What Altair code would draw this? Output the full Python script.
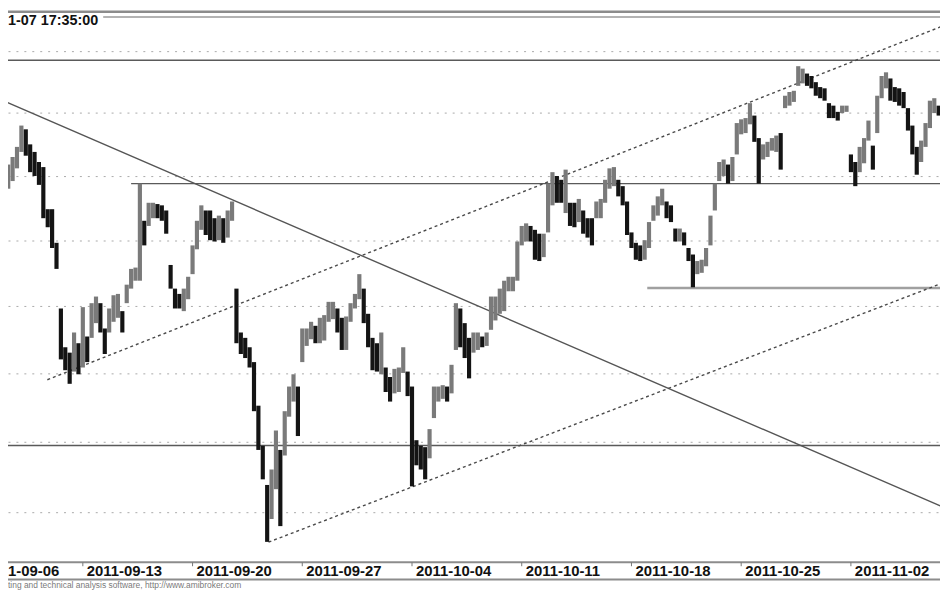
import altair as alt
import pandas as pd

# ---- data (prices on a log axis, bar index on x: 5 bars per trading day) ----
bar_high = [2359, 2365, 2373, 2390, 2387, 2375, 2369, 2361, 2357, 2324,
            2324, 2298, 2248, 2219, 2215, 2230, 2222, 2249, 2227, 2252,
            2257, 2252, 2233, 2248, 2258, 2259, 2246, 2266, 2278, 2279,
            2344, 2315, 2329, 2329, 2328, 2327, 2323, 2281, 2263, 2259,
            2263, 2272, 2296, 2315, 2327, 2323, 2323, 2317, 2319, 2317,
            2323, 2330, 2263, 2230, 2226, 2219, 2208, 2176, 2147, 2119,
            2130, 2158, 2144, 2172, 2190, 2199, 2190, 2233, 2233, 2238,
            2235, 2241, 2243, 2253, 2253, 2248, 2241, 2242, 2252, 2259,
            2274, 2263, 2244, 2226, 2222, 2230, 2204, 2197, 2203, 2204,
            2219, 2201, 2190, 2151, 2147, 2146, 2159, 2190, 2190, 2191,
            2190, 2206, 2252, 2248, 2237, 2226, 2230, 2230, 2227, 2230,
            2257, 2257, 2263, 2269, 2272, 2272, 2299, 2311, 2313, 2311,
            2308, 2305, 2305, 2344, 2353, 2350, 2347, 2355, 2329, 2329,
            2332, 2323, 2317, 2317, 2330, 2332, 2347, 2356, 2357, 2347,
            2342, 2330, 2306, 2298, 2296, 2300, 2314, 2327, 2334, 2340,
            2330, 2327, 2309, 2309, 2306, 2294, 2289, 2284, 2285, 2294,
            2319, 2344, 2361, 2363, 2359, 2365, 2392, 2395, 2396, 2408,
            2398, 2380, 2375, 2377, 2380, 2382, 2384, 2414, 2417, 2418,
            2438, 2436, 2432, 2430, 2425, 2421, 2420, 2408, 2406, 2401,
            2406, 2406, 2367, 2361, 2373, 2380, 2394, 2374, 2414, 2430,
            2433, 2428, 2421, 2420, 2417, 2404, 2390, 2373, 2378, 2392,
            2410, 2412, 2406]
bar_low = [2340, 2346, 2356, 2369, 2366, 2353, 2350, 2343, 2317, 2310,
           2294, 2278, 2210, 2202, 2192, 2201, 2199, 2204, 2208, 2226,
           2237, 2230, 2214, 2230, 2238, 2241, 2230, 2252, 2263, 2269,
           2269, 2296, 2311, 2317, 2317, 2315, 2305, 2263, 2248, 2248,
           2246, 2255, 2274, 2293, 2308, 2304, 2300, 2299, 2300, 2298,
           2302, 2315, 2222, 2214, 2211, 2204, 2172, 2144, 2123, 2079,
           2095, 2116, 2090, 2140, 2168, 2179, 2154, 2208, 2220, 2225,
           2222, 2222, 2224, 2238, 2240, 2230, 2217, 2217, 2238, 2248,
           2255, 2237, 2219, 2202, 2201, 2199, 2186, 2179, 2185, 2186,
           2200, 2183, 2118, 2133, 2130, 2123, 2138, 2167, 2179, 2181,
           2179, 2185, 2217, 2219, 2211, 2196, 2215, 2217, 2219, 2220,
           2232, 2239, 2244, 2246, 2261, 2261, 2269, 2296, 2299, 2299,
           2285, 2284, 2287, 2306, 2327, 2329, 2329, 2321, 2311, 2310,
           2314, 2305, 2302, 2296, 2317, 2317, 2329, 2340, 2342, 2334,
           2327, 2304, 2294, 2285, 2284, 2285, 2294, 2315, 2319, 2327,
           2317, 2314, 2299, 2299, 2296, 2284, 2264, 2274, 2275, 2280,
           2296, 2323, 2346, 2350, 2344, 2346, 2367, 2383, 2384, 2391,
           2377, 2344, 2363, 2365, 2370, 2369, 2355, 2404, 2406, 2409,
           2422, 2424, 2422, 2420, 2414, 2412, 2410, 2396, 2396, 2394,
           2400, 2401, 2353, 2342, 2353, 2360, 2378, 2355, 2384, 2412,
           2420, 2410, 2409, 2406, 2404, 2386, 2367, 2351, 2361, 2373,
           2388, 2400, 2398]

week_ticks = [17, 42, 67, 92, 117, 142, 167, 192]
week_labels = ["2011-09-13", "2011-09-20", "2011-09-27", "2011-10-04",
               "2011-10-11", "2011-10-18", "2011-10-25", "2011-11-02"]
first_label = "1-09-06"          # visible part of the first week label, cut at the left edge

grid_prices = [2100, 2150, 2200, 2250, 2300, 2350, 2400, 2450]

solid_trend_i = [-2, 214]
solid_trend_p = [2411.3, 2102.0]
upper_trend_i = [8.91, 214]
upper_trend_p = [2195.0, 2472.6]
lower_trend_i = [59.31, 214]
lower_trend_p = [2078.8, 2268.7]

level_start = [-2, 28, -2]
level_price = [2442.9, 2344.0, 2147.2]
support_start = [145.6]
support_price = [2263.5]
line_end = 214

title_text = "1-07 17:35:00"
footer_text = "ting and technical analysis software, http://www.amibroker.com"

# ---- tables ----
n = len(bar_high)
dirs = ["up"] + ["up" if (bar_high[k] + bar_low[k]) >= (bar_high[k - 1] + bar_low[k - 1]) else "down"
                 for k in range(1, n)]
bars = pd.DataFrame({"i": list(range(n)), "hi": bar_high, "lo": bar_low, "dir": dirs})
levels = pd.DataFrame({"i": level_start, "i2": [line_end] * len(level_start), "p": level_price})
support = pd.DataFrame({"i": support_start, "i2": [line_end], "p": support_price})
solid_tr = pd.DataFrame({"i": solid_trend_i, "p": solid_trend_p})
dotted_tr = pd.DataFrame({"i": upper_trend_i + lower_trend_i,
                          "p": upper_trend_p + lower_trend_p,
                          "name": ["upper", "upper", "lower", "lower"]})
ticks = pd.DataFrame({"i": week_ticks, "label": week_labels})
one = pd.DataFrame({"a": [0]})

W, H = 940, 556
xs = alt.Scale(domain=[-0.05, 212.3], nice=False, zero=False)
ys = alt.Scale(type="log", domain=[2065.2, 2483.9], nice=False, zero=False)
y_axis = alt.Axis(values=grid_prices, grid=True, gridColor="#a9a9a9", gridDash=[2, 6],
                  gridWidth=1, labels=False, ticks=False, domain=False, title="")

X = alt.X("i:Q", scale=xs, axis=None)
X2 = alt.X2("i2:Q")

lv = alt.Chart(levels).mark_rule(color="#5a5a5a", strokeWidth=1.4, clip=True).encode(
    x=X, x2=X2, y=alt.Y("p:Q", scale=ys, axis=y_axis))
sp = alt.Chart(support).mark_rule(color="#a0a0a0", strokeWidth=2.6, clip=True).encode(
    x=X, x2=X2, y=alt.Y("p:Q", scale=ys, axis=y_axis))
st = alt.Chart(solid_tr).mark_line(color="#555555", strokeWidth=1.4, clip=True).encode(
    x=X, y=alt.Y("p:Q", scale=ys, axis=y_axis))
dt = alt.Chart(dotted_tr).mark_line(color="#4a4a4a", strokeWidth=1.4, strokeDash=[3, 3], clip=True).encode(
    x=X, y=alt.Y("p:Q", scale=ys, axis=y_axis), detail="name:N")
br = alt.Chart(bars).mark_rule(strokeWidth=4.2).encode(
    x=X, y=alt.Y("hi:Q", scale=ys, axis=y_axis), y2="lo:Q",
    color=alt.Color("dir:N", scale=alt.Scale(domain=["up", "down"], range=["#7a7a7a", "#141414"]),
                    legend=None))

frame_col = "#8c8c8c"
top_band = alt.Chart(one).mark_rule(color=frame_col, strokeWidth=2.7).encode(
    x=alt.value(0), x2=alt.value(W), y=alt.value(1.3))
title_line = alt.Chart(one).mark_rule(color="#9a9a9a", strokeWidth=1.6).encode(
    x=alt.value(96), x2=alt.value(W), y=alt.value(6.6))
axis_line = alt.Chart(one).mark_rule(color=frame_col, strokeWidth=2).encode(
    x=alt.value(0), x2=alt.value(W), y=alt.value(556.5))
bottom_line = alt.Chart(one).mark_rule(color=frame_col, strokeWidth=2).encode(
    x=alt.value(0), x2=alt.value(W), y=alt.value(574))
tk = alt.Chart(ticks).mark_rule(color="#777777", strokeWidth=1).encode(
    x=X, y=alt.value(556.5), y2=alt.value(560.5))
tl = alt.Chart(ticks).mark_text(align="left", baseline="alphabetic", dx=4, fontSize=15,
                                fontWeight="bold", font="Liberation Sans", color="#111111").encode(
    x=X, y=alt.value(570.5), text="label:N")
fl = alt.Chart(pd.DataFrame({"t": [first_label]})).mark_text(
    align="left", baseline="alphabetic", fontSize=15, fontWeight="bold",
    font="Liberation Sans", color="#111111").encode(
    x=alt.value(0), y=alt.value(570.5), text="t:N")
title = alt.Chart(pd.DataFrame({"t": [title_text]})).mark_text(
    align="left", baseline="alphabetic", fontSize=14.5, fontWeight="bold",
    font="Liberation Sans", color="#111111").encode(
    x=alt.value(0), y=alt.value(14.8), text="t:N")
footer = alt.Chart(pd.DataFrame({"t": [footer_text]})).mark_text(
    align="left", baseline="alphabetic", fontSize=8.5, font="Liberation Sans",
    color="#7a7a7a").encode(x=alt.value(0), y=alt.value(582), text="t:N")

chart = alt.layer(lv, sp, st, dt, br, top_band, title_line, axis_line, bottom_line,
                  tk, tl, fl, title, footer).properties(
    width=W, height=H,
    autosize=alt.AutoSizeParams(type="none"),
    padding={"left": 0, "top": 0, "right": 0, "bottom": 29},
    background="white",
).configure_view(stroke=None)

chart.save("out.html", embed_options={"renderer": "svg", "actions": False})
